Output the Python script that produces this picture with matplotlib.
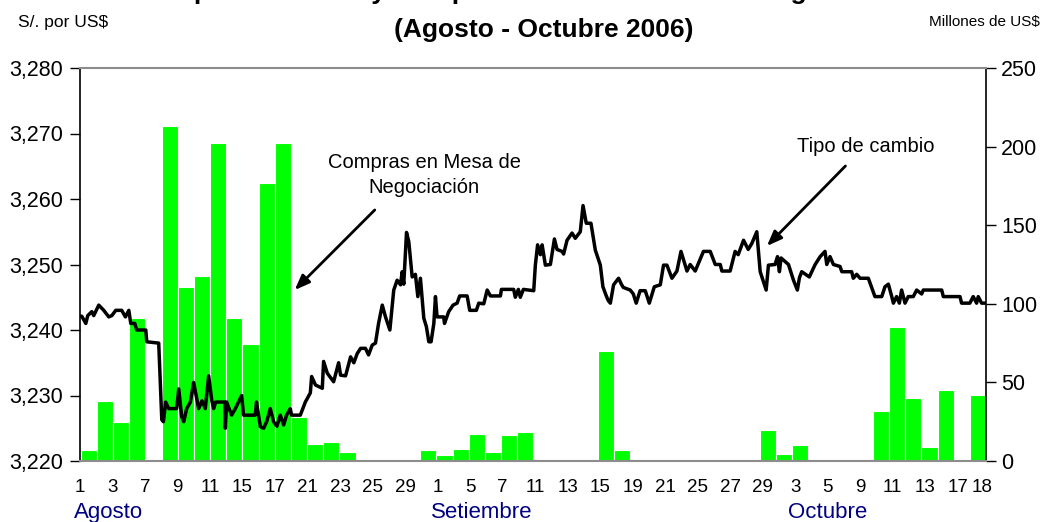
import numpy as np
import matplotlib.pyplot as plt
from matplotlib.ticker import FuncFormatter, FixedLocator

plt.rcParams['font.family'] = ['Liberation Sans', 'DejaVu Sans']

# compras en mesa de negociacion, millones de US$ (one bar per trading day)
compras = [7, 38, 25, 91, 0, 213, 111, 118, 202, 91, 74.5, 177, 202, 28,
           11, 12, 6, 1, 0, 0, 0, 7, 4, 7.6, 17, 6, 16.5, 18.5,
           0, 0, 0, 0, 70, 7, 1, 0, 0, 0, 0, 0, 0, 0,
           19.7, 4.5, 10, 0, 0, 0, 0, 32, 85, 40, 9, 45, 0, 42]

# day labels (every other trading day + last day), index of the trading day
dias = ['1', '3', '7', '9', '11', '15', '17', '21', '23', '25', '29',
        '1', '5', '7', '11', '13', '15', '19', '21', '25', '27', '29',
        '3', '5', '9', '11', '13', '17', '18']
dias_idx = list(range(0, 55, 2)) + [55]

meses = ['Agosto', 'Setiembre', 'Octubre']
meses_pos = [1.2, 24.3, 45.7]

# tipo de cambio intradiario (posicion en dias, S/. por US$)
tc_pos = [-0.5, -0.44, -0.19, -0.07, 0.18, 0.30, 0.61, 0.92, 1.23, 1.42, 1.66,
          2.03, 2.26, 2.47, 2.59, 2.84, 2.96, 3.52, 3.58, 4.32, 4.51, 4.61,
          4.75, 4.94, 5.43, 5.56, 5.74, 5.87, 6.05, 6.28, 6.48, 6.67, 6.79,
          7.0, 7.2, 7.41, 7.6, 7.72, 7.84, 8.42, 8.44, 8.52, 8.83, 9.06,
          9.45, 9.57, 10.29, 10.37, 10.61, 10.81, 11.0, 11.22, 11.43, 11.63,
          11.84, 12.05, 12.23, 12.46, 12.54, 13.08, 13.39, 13.7, 13.78, 14.02,
          14.44, 14.52, 14.75, 15.14, 15.45, 15.57, 15.88, 16.19, 16.39, 16.6,
          16.81, 17.11, 17.3, 17.53, 17.73, 17.92, 18.15, 18.35, 18.62, 18.86,
          19.07, 19.28, 19.38, 19.48, 19.65, 19.79, 20.0, 20.2, 20.35, 20.51,
          20.72, 20.88, 21.03, 21.17, 21.34, 21.44, 21.54, 21.95, 22.0, 22.26,
          22.53, 22.78, 22.94, 23.4, 23.56, 23.97, 24.12, 24.43, 24.64, 24.84,
          25.46, 25.52, 26.28, 26.38, 26.57, 26.69, 26.88, 27.52, 27.62, 27.76,
          27.93, 28.04, 28.24, 28.55, 28.8, 28.96, 29.27, 29.37, 29.58, 29.89,
          30.09, 30.4, 30.57, 30.77, 31.06, 31.33, 31.64, 31.8, 32.01, 32.13,
          32.26, 32.46, 32.77, 32.94, 33.06, 33.49, 33.68, 33.86, 34.1, 34.42,
          34.67, 34.98, 35.35, 35.55, 35.76, 36.07, 36.38, 36.63, 37.0, 37.2,
          37.51, 38.02, 38.44, 38.75, 39.06, 39.16, 39.67, 39.98, 40.17, 40.5,
          40.79, 41.01, 41.32, 41.53, 41.9, 42.04, 42.45, 42.6, 42.72, 42.82,
          43.28, 43.59, 43.83, 43.96, 44.1, 44.57, 44.93, 45.24, 45.54, 45.65,
          45.85, 46.06, 46.47, 46.58, 47.19, 47.29, 47.5, 47.71, 48.22, 48.63,
          49.05, 49.25, 49.46, 49.67, 49.77, 49.97, 50.14, 50.28, 50.49, 50.69,
          51.0, 51.21, 51.52, 51.62, 52.76, 52.86, 53.89, 53.99, 54.5, 54.71,
          54.92, 55.02, 55.23, 55.5]
tc_val = [3.2421, 3.2421, 3.2410, 3.2422, 3.2428, 3.2422, 3.2438, 3.2430, 3.2420, 3.2422, 3.2430,
          3.2430, 3.2420, 3.2430, 3.2410, 3.2410, 3.2400, 3.2400, 3.2382, 3.2380, 3.2263, 3.2260,
          3.2290, 3.2280, 3.2280, 3.2310, 3.2268, 3.2260, 3.2280, 3.2290, 3.2320, 3.2295, 3.2280,
          3.2292, 3.2280, 3.2330, 3.2293, 3.2280, 3.2290, 3.2290, 3.2250, 3.2290, 3.2270, 3.2280,
          3.2300, 3.2270, 3.2270, 3.2290, 3.2252, 3.2250, 3.2260, 3.2280, 3.2260, 3.2253,
          3.2270, 3.2255, 3.2270, 3.2280, 3.2270, 3.2270, 3.2290, 3.2304, 3.2329, 3.2316,
          3.2311, 3.2352, 3.2334, 3.2321, 3.2350, 3.2331, 3.2330, 3.2359, 3.2350, 3.2364,
          3.2372, 3.2372, 3.2362, 3.2377, 3.2380, 3.2410, 3.2438, 3.2420, 3.2400, 3.2461,
          3.2476, 3.2469, 3.2489, 3.2470, 3.2549, 3.2535, 3.2481, 3.2485, 3.2451, 3.2479,
          3.2418, 3.2405, 3.2382, 3.2382, 3.2410, 3.2451, 3.2420, 3.2420, 3.2410, 3.2428,
          3.2438, 3.2441, 3.2452, 3.2452, 3.2430, 3.2430, 3.2441, 3.2440, 3.2461, 3.2452,
          3.2452, 3.2462, 3.2462, 3.2450, 3.2462, 3.2450, 3.2462, 3.2460, 3.2499, 3.2530,
          3.2515, 3.2530, 3.2499, 3.2500, 3.2539, 3.2523, 3.2520, 3.2516, 3.2537, 3.2548,
          3.2540, 3.2550, 3.2590, 3.2563, 3.2563, 3.2522, 3.2499, 3.2466, 3.2452, 3.2445,
          3.2441, 3.2469, 3.2479, 3.2470, 3.2465, 3.2461, 3.2455, 3.2441, 3.2460, 3.2460,
          3.2441, 3.2466, 3.2469, 3.2499, 3.2499, 3.2479, 3.2490, 3.2520, 3.2490, 3.2500,
          3.2490, 3.2520, 3.2520, 3.2500, 3.2500, 3.2490, 3.2490, 3.2520, 3.2515, 3.2537,
          3.2523, 3.2532, 3.2550, 3.2489, 3.2461, 3.2499, 3.2500, 3.2512, 3.2489, 3.2510,
          3.2500, 3.2476, 3.2461, 3.2480, 3.2489, 3.2481, 3.2500, 3.2512, 3.2520, 3.2500,
          3.2512, 3.2500, 3.2497, 3.2489, 3.2489, 3.2479, 3.2485, 3.2479, 3.2479, 3.2451,
          3.2451, 3.2466, 3.2470, 3.2451, 3.2441, 3.2451, 3.2441, 3.2461, 3.2441, 3.2451,
          3.2451, 3.2461, 3.2455, 3.2461, 3.2461, 3.2451, 3.2451, 3.2441, 3.2441, 3.2451,
          3.2441, 3.2451, 3.2441, 3.2441]

fig = plt.figure(figsize=(10.51, 5.22), dpi=100)
ax = fig.add_axes([80 / 1051, 1 - 461 / 522, 906 / 1051, 393 / 522])
ax2 = ax.twinx()

x = np.arange(len(compras))
ax2.bar(x, compras, width=1.0, color='#00FF00', edgecolor='white', linewidth=0.8)
ax2.set_ylim(0, 250)
ax2.set_yticks([0, 50, 100, 150, 200, 250])

ax.plot(tc_pos, tc_val, color='black', lw=2.5, solid_joinstyle='round')
ax.set_ylim(3.220, 3.280)
ax.set_xlim(-0.5, len(compras) - 0.5)
ax.yaxis.set_major_locator(FixedLocator([3.22, 3.23, 3.24, 3.25, 3.26, 3.27, 3.28]))
ax.yaxis.set_major_formatter(FuncFormatter(lambda v, p: '{:.3f}'.format(v).replace('.', ',')))

ax.set_zorder(ax2.get_zorder() + 1)
ax.patch.set_visible(False)

# Excel-style day labels sit near the left edge of each labelled day
tick_x = [i * 1.0055 - 0.55 for i in dias_idx]
tick_x[-1] = dias_idx[-1] + 0.28
ax.set_xticks(tick_x)
ax.set_xticklabels(dias)
ax.tick_params(axis='x', length=0, pad=13, labelsize=13.5)
ax.tick_params(axis='y', direction='out', length=7, width=1, pad=5, labelsize=15.5)
ax2.tick_params(axis='y', direction='out', length=7, width=1, pad=4, labelsize=15.5)

for s in ['top', 'bottom']:
    ax.spines[s].set_color('#8c8c8c')
    ax.spines[s].set_linewidth(1.5)
ax.spines['left'].set_linewidth(1.2)
ax.spines['right'].set_visible(False)
for s in ['top', 'bottom', 'left']:
    ax2.spines[s].set_visible(False)
ax2.spines['right'].set_linewidth(1.2)

for m, p in zip(meses, meses_pos):
    ax.text(p, -0.13, m, transform=ax.get_xaxis_transform(), ha='center', va='center',
            fontsize=16, color='#000080')

# titles and units
fig.text(542 / 1051, 1 + 1.5 / 522, 'Tipo de cambio y Compras diarias en Mesa de Negociación',
         ha='center', va='baseline', fontsize=19, fontweight='bold')
fig.text(544 / 1051, 1 - 37 / 522, '(Agosto - Octubre 2006)',
         ha='center', va='baseline', fontsize=19, fontweight='bold')
fig.text(18 / 1051, 1 - 22 / 522, 'S/. por US$', ha='left', va='center', fontsize=12.5)
fig.text(1040 / 1051, 1 - 22 / 522, 'Millones de US$', ha='right', va='center', fontsize=11)

ax.annotate('Compras en Mesa de\nNegociación', xy=(0.2348, 0.430), xytext=(0.380, 0.728),
            xycoords='axes fraction', textcoords='axes fraction', ha='center', va='center',
            fontsize=14.5, linespacing=1.4)
ax.annotate('', xy=(0.2348, 0.430), xytext=(0.3275, 0.6438),
            xycoords='axes fraction', textcoords='axes fraction',
            arrowprops=dict(arrowstyle='-|>,head_length=0.9,head_width=0.35', color='black', lw=2))
ax.annotate('Tipo de cambio', xy=(0.8675, 0.799), xycoords='axes fraction',
            ha='center', va='center', fontsize=14.5)
ax.annotate('', xy=(0.756, 0.542), xytext=(0.847, 0.7557),
            xycoords='axes fraction', textcoords='axes fraction',
            arrowprops=dict(arrowstyle='-|>,head_length=0.9,head_width=0.35', color='black', lw=2))

fig.savefig('out.png', dpi=100)
